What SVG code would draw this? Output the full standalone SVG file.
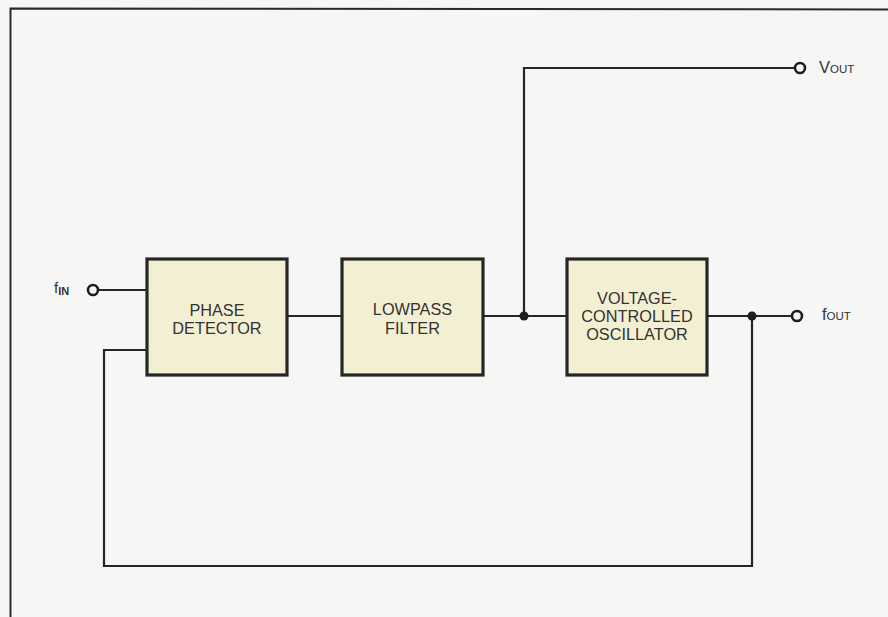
<svg xmlns="http://www.w3.org/2000/svg" width="888" height="617" viewBox="0 0 888 617">
<style>
.box{fill:#f3efd2;stroke:#262626;stroke-width:3.2}
.wire{fill:none;stroke:#262626;stroke-width:2.2}
.term{fill:#f7f7f5;stroke:#1e1e1e;stroke-width:2.6}
.dot{fill:#1e1e1e}
.lbl{font-family:"Liberation Sans",Arial,sans-serif;font-size:16.3px;fill:#333;text-anchor:middle}
.sig{font-family:"Liberation Sans",Arial,sans-serif;fill:#333}
</style>
<rect x="0" y="0" width="888" height="617" fill="#f6f6f4"/>
<g id="frame">
<polyline points="10.5,617 10.5,8.5 888,9.5" fill="none" stroke="#2a2a2a" stroke-width="2"/>
</g>
<g id="connectors">
<line class="wire" x1="97" y1="290" x2="147" y2="290"/>
<line class="wire" x1="287" y1="316" x2="342" y2="316"/>
<line class="wire" x1="483" y1="316" x2="567" y2="316"/>
<polyline class="wire" points="524,316 524,68 796,68"/>
<line class="wire" x1="707" y1="316" x2="794" y2="316"/>
<polyline class="wire" points="752,316 752,566 104,566 104,350 147,350"/>
<circle class="dot" cx="524" cy="316" r="4.5"/>
<circle class="dot" cx="752" cy="316" r="4.5"/>
</g>
<g id="phase-detector">
<rect class="box" x="147" y="259" width="140" height="116"/>
<text class="lbl" x="217" y="316">PHASE</text>
<text class="lbl" x="217" y="334">DETECTOR</text>
</g>
<g id="lowpass-filter">
<rect class="box" x="342" y="259" width="141" height="116"/>
<text class="lbl" x="412.5" y="315">LOWPASS</text>
<text class="lbl" x="412.5" y="334">FILTER</text>
</g>
<g id="vco">
<rect class="box" x="567" y="259" width="140" height="116"/>
<text class="lbl" x="637" y="304">VOLTAGE-</text>
<text class="lbl" x="637" y="322">CONTROLLED</text>
<text class="lbl" x="637" y="340">OSCILLATOR</text>
</g>
<g id="f-in">
<circle class="term" cx="93" cy="290" r="5"/>
<text class="sig" x="54" y="293"><tspan font-size="15">f</tspan><tspan font-size="11" font-weight="bold" dy="1.5">IN</tspan></text>
</g>
<g id="v-out">
<circle class="term" cx="800" cy="68" r="5"/>
<text class="sig" x="819" y="73"><tspan font-size="16.5">V</tspan><tspan font-size="11.5">OUT</tspan></text>
</g>
<g id="f-out">
<circle class="term" cx="797" cy="316" r="5"/>
<text class="sig" x="822" y="320"><tspan font-size="16">f</tspan><tspan font-size="11.5">OUT</tspan></text>
</g>
</svg>
